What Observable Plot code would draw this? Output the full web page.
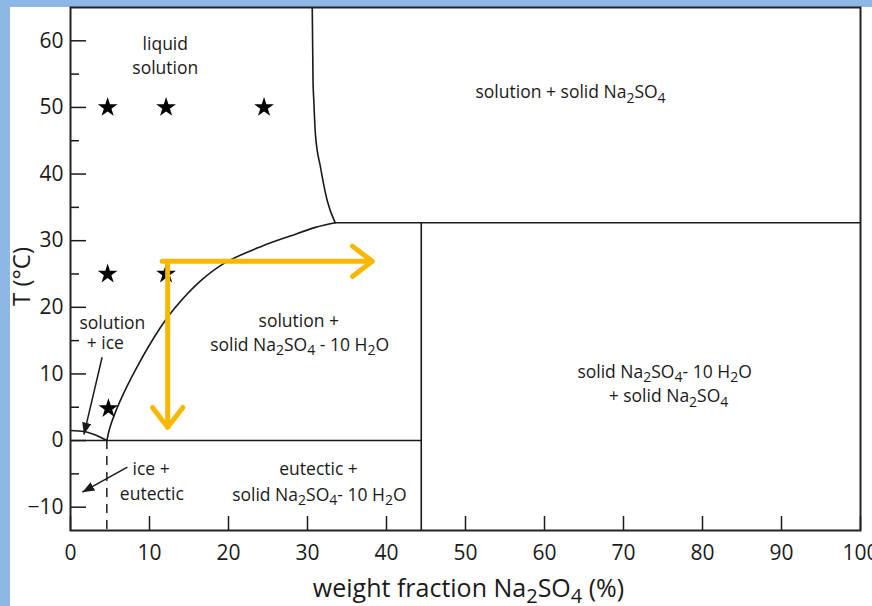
<!DOCTYPE html>
<html><head><meta charset="utf-8">
<script src="https://cdn.jsdelivr.net/npm/d3@7"></script>
<script src="https://cdn.jsdelivr.net/npm/@observablehq/plot@0.6"></script>
<style>
html,body{margin:0;padding:0;background:#fff;}
#chart svg{display:block;background:#fff;box-shadow:inset 10px 7px 0 0 #8db8e6;}
</style></head><body><div id="chart"></div>
<script>
// ---- axes ----
const xTicks = [0,10,20,30,40,50,60,70,80,90,100];
const yTicks = [-10,0,10,20,30,40,50,60];
const yMinorTicks = [-5,5,15,25,35,45,55];
const xLabel = "weight fraction Na_2SO_4 (%)";
const yLabel = "T (°C)";

// ---- phase boundaries ----
// ice liquidus
const iceX = [0, 1.7, 3.0, 4.6];
const iceT = [1.5, 1.35, 0.9, 0];
// Na2SO4·10H2O solubility curve
const decaX = [4.6, 5.0, 6.3, 8.4, 11.4, 13.1, 16.5, 19.6, 24.3, 27.8, 31.0, 33.5];
const decaT = [0, 2, 6, 11, 17, 19.75, 24, 26.7, 29.2, 30.7, 32.0, 32.7];
// anhydrous Na2SO4 solubility curve
const anhX = [30.6, 30.7, 30.8, 31.0, 31.65, 32.5, 33.5];
const anhT = [65, 54, 51, 46, 41, 36, 32.7];
// straight boundaries
const segX1 = [0, 33.5, 44.4];
const segT1 = [0, 32.7, -13.5];
const segX2 = [44.4, 100, 44.4];
const segT2 = [0, 32.7, 32.7];
// dashed eutectic composition line
const dashX = [4.6, 4.6];
const dashT = [0, -13.5];

// ---- experiment points (stars) ----
const starX = [4.7, 12.1, 24.5, 4.7, 12.1, 4.8];
const starT = [50, 50, 50, 25, 25, 4.8];

// ---- yellow arrows ----
const yArrX1 = [11.6, 12.3];
const yArrT1 = [26.9, 26.9];
const yArrX2 = [38.2, 12.3];
const yArrT2 = [26.9, 2.0];

// ---- black pointer arrows ----
const bArrX1 = [4.0, 7.2];
const bArrT1 = [12.5, -4.0];
const bArrX2 = [1.7, 1.5];
const bArrT2 = [0.9, -7.75];

// ---- region labels ----
const labelText = ["liquid","solution","solution + solid Na_2SO_4","solution +","solid Na_2SO_4 - 10 H_2O",
  "solution","+ ice","solid Na_2SO_4- 10 H_2O","+ solid Na_2SO_4","ice +","eutectic","eutectic +","solid Na_2SO_4- 10 H_2O"];
const labelX = [12.0, 12.0, 63.3, 28.9, 29.0, 5.3, 4.4, 75.2, 75.7, 10.2, 10.3, 31.4, 31.5];
const labelT = [59.5, 55.8, 52.2, 17.9, 14.3, 17.6, 14.6, 10.3, 6.6, -4.4, -8.1, -4.4, -8.2];

const ns = "http://www.w3.org/2000/svg";
const idx = a => a.map((_, i) => i);

function solidHead(color, context) {
  const doc = (context && context.document) || document;
  const m = doc.createElementNS(ns, "marker");
  m.setAttribute("viewBox", "-12 -5 12 10");
  m.setAttribute("markerWidth", "12");
  m.setAttribute("markerHeight", "10");
  m.setAttribute("markerUnits", "userSpaceOnUse");
  m.setAttribute("orient", "auto");
  m.setAttribute("refX", "0");
  m.setAttribute("refY", "0");
  const p = doc.createElementNS(ns, "path");
  p.setAttribute("d", "M-12,-4.6L0,0L-12,4.6Z");
  p.setAttribute("fill", color);
  p.setAttribute("stroke", "none");
  m.appendChild(p);
  return m;
}

const font = "'Open Sans', 'DejaVu Sans', sans-serif";
const ink = "#1a1a1a";

function build(useMarker) {
  const bIdx = idx(bArrX1);
  const marks = [
    Plot.line(idx(iceX), {x: i => iceX[i], y: i => iceT[i], curve: "monotone-x", stroke: ink, strokeWidth: 1.6}),
    Plot.line(idx(decaX), {x: i => decaX[i], y: i => decaT[i], curve: "catmull-rom", stroke: ink, strokeWidth: 1.6}),
    Plot.line(idx(anhX), {x: i => anhX[i], y: i => anhT[i], curve: "monotone-x", stroke: ink, strokeWidth: 1.6}),
    Plot.link(idx(segX1), {x1: i => segX1[i], y1: i => segT1[i], x2: i => segX2[i], y2: i => segT2[i], stroke: ink, strokeWidth: 1.6}),
    Plot.line(idx(dashX), {x: i => dashX[i], y: i => dashT[i], stroke: ink, strokeWidth: 1.5, strokeDasharray: "8,8"}),
    Plot.dot(idx(starX), {x: i => starX[i], y: i => starT[i], symbol: "star", r: 6.2, fill: "#000", stroke: "none"}),
    Plot.link(bIdx, {x1: i => bArrX1[i], y1: i => bArrT1[i], x2: i => bArrX2[i], y2: i => bArrT2[i], stroke: ink, strokeWidth: 1.5,
      ...(useMarker ? {markerEnd: solidHead} : {})}),
    Plot.arrow(idx(yArrX1), {x1: i => yArrX1[i], y1: i => yArrT1[i], x2: i => yArrX2[i], y2: i => yArrT2[i],
      stroke: "#f9b800", strokeWidth: 5, headLength: 7.5, headAngle: 75, strokeLinecap: "round", strokeLinejoin: "round"}),
    Plot.text(idx(labelText), {x: i => labelX[i], y: i => labelT[i], text: i => labelText[i], fontSize: 17.5, fill: ink, textAnchor: "middle"}),
    Plot.axisX(xTicks, {tickSize: -14, tickPadding: 29, fontSize: 21, label: null, stroke: ink, strokeWidth: 1.5, fill: ink}),
    Plot.axisY(yTicks, {tickSize: -16, tickPadding: 23, fontSize: 21, label: null, stroke: ink, strokeWidth: 1.5, fill: ink}),
    Plot.axisY(yMinorTicks, {tickSize: -9, tickFormat: () => "", label: null, stroke: ink, strokeWidth: 1.5}),
    Plot.frame({stroke: "#222", strokeWidth: 2}),
    Plot.text([xLabel], {frameAnchor: "bottom", textAnchor: "middle", lineAnchor: "middle", dx: 3, dy: 58, fontSize: 25, fill: ink}),
    Plot.text([yLabel], {frameAnchor: "left", textAnchor: "middle", lineAnchor: "middle", rotate: -90, dx: -48, dy: 7.5, fontSize: 24, fill: ink})
  ];
  if (!useMarker) {
    const kx = 7.9, ky = 523 / 78.5;
    marks.push(Plot.dot(bIdx, {x: i => bArrX2[i], y: i => bArrT2[i], symbol: "triangle2", r: 3.5, fill: ink,
      rotate: i => Math.atan2((bArrX2[i] - bArrX1[i]) * kx, (bArrT2[i] - bArrT1[i]) * ky) * 180 / Math.PI}));
  }
  return Plot.plot({
    width: 872, height: 606,
    marginLeft: 70, marginRight: 12, marginTop: 7, marginBottom: 76,
    x: {domain: [0, 100]},
    y: {domain: [-13.5, 65]},
    style: {fontFamily: font, color: ink, background: "transparent"},
    marks
  });
}

let chart;
try { chart = build(true); } catch (e) { chart = build(false); }

// render subscripts ("_2" -> subscript 2)
function applySubscripts(svg) {
  svg.querySelectorAll("text").forEach(t => {
    const targets = t.querySelector("tspan") ? [...t.querySelectorAll("tspan")] : [t];
    targets.forEach(el => {
      const s = el.textContent;
      if (!s.includes("_")) return;
      const g = el.closest("[font-size]");
      const fs = parseFloat((g && g.getAttribute("font-size")) || 16);
      const shift = 0.25 * fs;
      el.textContent = "";
      const parts = s.split(/_(\d)/);
      let shifted = false;
      parts.forEach((p, i) => {
        if (p === "") return;
        const ts = document.createElementNS(ns, "tspan");
        ts.textContent = p;
        if (i % 2 === 1) {
          ts.setAttribute("font-size", (0.8 * fs) + "px");
          ts.setAttribute("dy", shift);
          shifted = true;
        } else if (shifted) {
          ts.setAttribute("dy", -shift);
          shifted = false;
        }
        el.appendChild(ts);
      });
    });
  });
}
document.getElementById("chart").appendChild(chart);
applySubscripts(chart);
</script></body></html>
